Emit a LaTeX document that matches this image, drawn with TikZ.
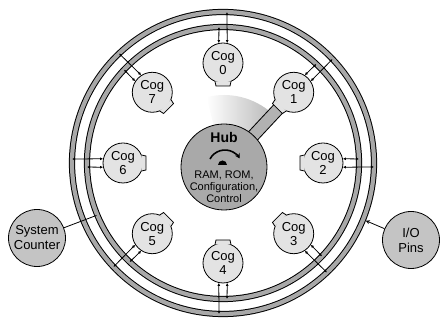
\documentclass[tikz,border=0pt]{standalone}
\usepackage{fontspec}
\setmainfont{Liberation Sans}
\usetikzlibrary{positioning,calc,arrows.meta,backgrounds}
\definecolor{cogfill}{HTML}{E3E3E3}
\definecolor{hubfill}{HTML}{A9A9A9}
\definecolor{extfill}{HTML}{C4C4C4}
\definecolor{ringfill}{HTML}{A8A8A8}
\definecolor{spokefill}{HTML}{B2B2B2}

\begin{document}
\begin{tikzpicture}[x=1pt, y=1pt,
    cog/.style={circle, draw, thick, fill=cogfill, minimum size=40pt, inner sep=0pt, align=center, font=\fontsize{13}{14}\selectfont},
    hubnode/.style={circle, draw, thick, fill=hubfill, minimum size=86pt, inner sep=0pt},
    ext/.style={circle, draw, thick, fill=extfill, minimum size=57pt, inner sep=0pt, align=center, font=\fontsize{13}{15}\selectfont},
    link/.style={thick, {Latex[length=3pt,width=3pt]}-{Latex[length=3pt,width=3pt]}}
  ]
    \useasboundingbox (-223,-160) rectangle (219,163);

    \foreach \r in {136,151} {
      \draw[line width=6.2pt] (0,0) circle (\r);
      \draw[line width=4.2pt, ringfill] (0,0) circle (\r);
    }

    \node[hubnode] (hub) at (1,-4) {};
    \node[font=\fontsize{14}{14}\selectfont\bfseries] (hubtitle) at (1,26) {Hub};
    \draw[line width=1.6pt, -{Stealth[length=5pt,width=5.5pt]}] ($(hub.center)+(1,0)+(152:17)$) arc (152:30:17);
    \fill ($(hub.center)+(-6,2)$) arc (180:0:4.5) -- cycle;
    \node[font=\fontsize{11}{12}\selectfont, align=center] (hubtext) at (1,-24) {RAM, ROM,\\Configuration,\\Control};

    \foreach \k in {0,...,7} {
      \pgfmathsetmacro{\a}{90-45*\k}
      \node[cog] (cog\k) at (\a:100) {Cog\\\k};
      \filldraw[fill=cogfill, thick, shift={(cog\k.center)}, rotate=\a] (-18.5,-8) -- (-23,-7) -- (-23,7) -- (-18.5,8);
      \coordinate (in\k) at (\a+1.7:136);
      \coordinate (out\k) at (\a-1.5:151);
      \draw[link] (cog\k.{\a+12}) -- (in\k);
      \draw[link] (cog\k.{\a-12}) -- (out\k);
    }

    \begin{pgfonlayer}{background}
      \shade[left color=white, right color=gray!55] (hub.center) -- +(48:72) arc (48:104:72) -- cycle;
      \draw[line width=13pt] (hub.center) -- (cog1.center);
      \draw[line width=11pt, spokefill] (hub.center) -- (cog1.center);
    \end{pgfonlayer}

    \node[ext] (sysctr) at (-186,-75) {System\\Counter};
    \node[ext] (iopins) at (188,-77) {I/O\\Pins};
    \coordinate (sysend) at (202.5:137);
    \coordinate (ioend) at (-22:154);
    \draw[thick] (sysctr) -- (sysend);
    \draw[thick, -{Stealth[length=4pt,width=4pt]}] (iopins) -- (ioend);

  \end{tikzpicture}
\end{document}
